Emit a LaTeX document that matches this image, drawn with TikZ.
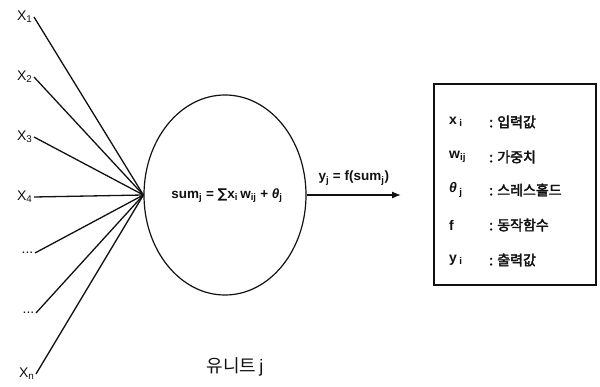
\documentclass[tikz,border=0pt]{standalone}
\usepackage{fontspec}
\setmainfont{Liberation Sans}
\newfontfamily\krfont[AutoFakeBold=2.5]{Noto Sans CJK KR}
\newfontfamily\krplain{Noto Sans CJK KR}
\newfontfamily\symfont{DejaVu Sans}
\usepackage{tikz}
\usetikzlibrary{arrows.meta,positioning,shapes.geometric}
\definecolor{Ink}{HTML}{111111}
\tikzset{
  inlabel/.style={anchor=east,inner sep=1.5pt,font=\fontsize{14}{16}\selectfont,text=Ink},
  inwire/.style={draw=Ink,line width=1.3pt},
  unitbody/.style={ellipse,draw=Ink,line width=1.2pt,minimum width=162pt,minimum height=200pt,inner sep=0pt},
  arrow/.style={-{Latex[length=9pt,width=7pt]},draw=Ink,line width=1.3pt},
  legendbox/.style={draw=Ink,line width=1.3pt,minimum width=162pt,minimum height=201pt,inner sep=0pt},
  legsym/.style={anchor=west,inner sep=0pt,font=\fontsize{14}{16}\selectfont\bfseries,text=Ink},
  legtext/.style={anchor=west,inner sep=0pt,font=\fontsize{14}{16}\selectfont\krfont\bfseries,text=Ink},
  note/.style={font=\fontsize{13.5}{16}\selectfont\bfseries,text=Ink}
}
\begin{document}
\begin{tikzpicture}[x=1pt,y=-1pt]
  \useasboundingbox (0,0) rectangle (600,387);
  % inputs
  \node[inlabel] (x1) at (34,17) {X\textsubscript{1}};
  \node[inlabel] (x2) at (34,77) {X\textsubscript{2}};
  \node[inlabel] (x3) at (34,137) {X\textsubscript{3}};
  \node[inlabel] (x4) at (34,197) {X\textsubscript{4}};
  \node[inlabel] (d1) at (35,253) {...};
  \node[inlabel] (d2) at (36,313) {...};
  \node[inlabel] (xn) at (36,374) {X\textsubscript{n}};
  % unit j
  \node[unitbody] (unit) at (225,195) {};
  \node[note] (sum) at (227,196) {sum\textsubscript{j} = {\symfont\bfseries ∑}x\textsubscript{i}\,w\textsubscript{ij} + \textit{θ}\textsubscript{j}};
  \node[font=\fontsize{18}{20}\selectfont,text=Ink] (name) at (235,367) {{\krplain 유니트}\,j};
  \draw[inwire] (x1.east) -- (unit.west);
  \draw[inwire] (x2.east) -- (unit.west);
  \draw[inwire] (x3.east) -- (unit.west);
  \draw[inwire] (x4.east) -- (unit.west);
  \draw[inwire] (d1.east) -- (unit.west);
  \draw[inwire] (d2.east) -- (unit.west);
  \draw[inwire] (xn.east) -- (unit.west);
  % output
  \coordinate (out) at (401,195);
  \draw[arrow] (unit.east) -- node[above=6pt,note] {y\textsubscript{j} = f(sum\textsubscript{j})} (out);
  % legend
  \node[legendbox] (legend) at (515,184.5) {};
  \node[legsym] (sx) at (449,122) {x\,\textsubscript{i}};
  \node[legsym] (sw) at (449,157) {w\textsubscript{ij}};
  \node[legsym] (st) at (449,190) {\textit{θ}\,\textsubscript{j}};
  \node[legsym] (sf) at (449,225) {f};
  \node[legsym] (sy) at (449,260) {y\,\textsubscript{i}};
  \node[legtext] (tx) at (489,122) {: 입력값};
  \node[legtext] (tw) at (489,157) {: 가중치};
  \node[legtext] (tt) at (489,190) {: 스레스홀드};
  \node[legtext] (tf) at (489,225) {: 동작함수};
  \node[legtext] (ty) at (489,260) {: 출력값};
\end{tikzpicture}
\end{document}
